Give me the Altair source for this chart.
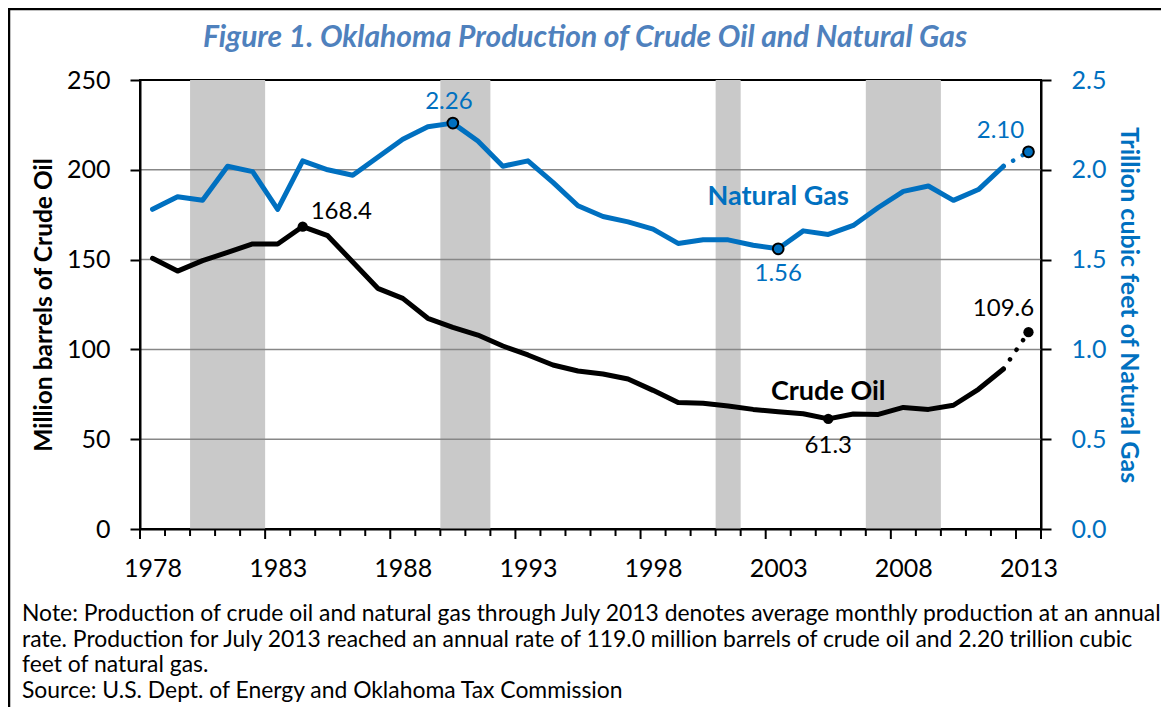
import altair as alt
import pandas as pd

# ---------------- data ----------------
years = list(range(1978, 2014))
oil = [150.7, 143.6, 149.4, 154.0, 158.7, 158.7, 168.4, 163.3, 148.7, 134.0,
       128.4, 117.3, 112.3, 108.0, 101.9, 96.9, 91.3, 88.0, 86.3, 83.5,
       77.2, 70.5, 70.0, 68.5, 66.6, 65.3, 64.2, 61.3, 64.0, 63.8,
       67.7, 66.6, 68.9, 77.8, 89.1, 109.6]
gas = [1.78, 1.85, 1.83, 2.02, 1.99, 1.78, 2.05, 2.00, 1.97, 2.07,
       2.17, 2.24, 2.26, 2.16, 2.02, 2.05, 1.93, 1.80, 1.74, 1.71,
       1.67, 1.59, 1.61, 1.61, 1.58, 1.56, 1.66, 1.64, 1.69, 1.79,
       1.88, 1.91, 1.83, 1.89, 2.02, 2.10]
rec_start = [1980, 1990, 2001, 2007]
rec_end = [1982, 1991, 2001, 2009]
label_years = [1978, 1983, 1988, 1993, 1998, 2003, 2008, 2013]
oil_ticks = [0, 50, 100, 150, 200, 250]
gas_ticks = [0.0, 0.5, 1.0, 1.5, 2.0, 2.5]
oil_marked = [1984, 2005, 2013]
gas_marked = [1990, 2003, 2013]
series = ["Crude Oil", "Natural Gas"]
title_text = "Figure 1. Oklahoma Production of Crude Oil and Natural Gas"
y_left_title = "Million barrels of Crude Oil"
y_right_title = "Trillion cubic feet of Natural Gas"
note_lines = [
    "Note: Production of crude oil and natural gas through July 2013 denotes average monthly production at an annual",
    "rate. Production for July 2013 reached an annual rate of 119.0 million barrels of crude oil and 2.20 trillion cubic",
    "feet of natural gas.",
    "Source: U.S. Dept. of Energy and Oklahoma Tax Commission",
]

FONT = "Lato"
BLUE = "#0070C0"
W, H = 901, 449
last_solid = years[-2]

df = pd.DataFrame({"year": years, "oil": oil, "gas": gas})
rec = pd.DataFrame({"start": rec_start, "end": rec_end})
bounds = pd.DataFrame({"b": [y - 0.5 for y in years] + [years[-1] + 0.5]})
grid = pd.DataFrame({"v": oil_ticks})

xscale = alt.Scale(domain=[years[0] - 0.5, years[-1] + 0.5], nice=False, zero=False)
lscale = alt.Scale(domain=[oil_ticks[0], oil_ticks[-1]], nice=False)
rscale = alt.Scale(domain=[gas_ticks[0], gas_ticks[-1]], nice=False)

x_axis = alt.Axis(values=label_years, format="d", ticks=False, tickSize=0,
                  labelPadding=27, labelFontSize=25, labelFont=FONT,
                  labelColor="black", labelFlush=False, labelOverlap=False,
                  domainColor="black", domainWidth=2, grid=False, title=None,
                  zindex=1)

left_axis = alt.Axis(values=oil_ticks, grid=False, tickSize=10, tickColor="black",
                     tickWidth=2, domainColor="black", domainWidth=2,
                     labelFontSize=25, labelFont=FONT, labelColor="black",
                     labelPadding=20, title=y_left_title, titleFont=FONT,
                     titleFontSize=24.5, titleFontWeight="bold", titleColor="black",
                     titleAngle=-90, titleX=-96, titleY=H / 2, titleAlign="center",
                     titleBaseline="middle", zindex=1)

right_axis = alt.Axis(values=gas_ticks, format=".1f", orient="right", grid=False,
                      tickSize=10, tickColor="black", tickWidth=2,
                      domainColor="black", domainWidth=2, labelFontSize=25,
                      labelFont=FONT, labelColor=BLUE, labelPadding=20,
                      title=y_right_title, titleFont=FONT, titleFontSize=25,
                      titleFontWeight="bold", titleColor=BLUE, titleAngle=90,
                      titleX=87, titleY=H / 2, titleAlign="center",
                      titleBaseline="middle", zindex=1)


def XX(field, axis=None):
    if axis is None:
        return alt.X(f"{field}:Q", scale=xscale)
    return alt.X(f"{field}:Q", scale=xscale, axis=axis)


def YL(field, axis=None):
    if axis is None:
        return alt.Y(f"{field}:Q", scale=lscale)
    return alt.Y(f"{field}:Q", scale=lscale, axis=axis)


def YR(field, axis=None):
    if axis is None:
        return alt.Y(f"{field}:Q", scale=rscale)
    return alt.Y(f"{field}:Q", scale=rscale, axis=axis)


# ---------------- left (crude oil) layers ----------------
bands = alt.Chart(rec).transform_calculate(
    x0="datum.start - 0.5", x1="datum.end + 0.5",
    lo=f"{oil_ticks[0]}", hi=f"{oil_ticks[-1]}"
).mark_rect(color="#C9C9C9").encode(
    x=XX("x0", x_axis),
    x2="x1:Q",
    y=YL("lo"),
    y2="hi:Q",
)

grid_rules = alt.Chart(grid).transform_filter(
    f"datum.v > {oil_ticks[0]} && datum.v < {oil_ticks[-1]}"
).mark_rule(color="#878787", strokeWidth=1.5).encode(y=YL("v"))

x0b = years[0] - 0.5
tick_minor = alt.Chart(bounds).transform_filter(
    f"(datum.b - {x0b}) % 5 != 0 && datum.b != {years[-1] + 0.5}"
).mark_rule(color="black", strokeWidth=2).encode(
    x=XX("b"), y=alt.value(H), y2=alt.value(H + 7)
)
tick_major = alt.Chart(bounds).transform_filter(
    f"(datum.b - {x0b}) % 5 == 0 || datum.b == {years[-1] + 0.5}"
).mark_rule(color="black", strokeWidth=2).encode(
    x=XX("b"), y=alt.value(H), y2=alt.value(H + 10)
)

oil_solid = alt.Chart(df).transform_filter(f"datum.year <= {last_solid}").mark_line(
    color="black", strokeWidth=5, strokeJoin="round", strokeCap="round"
).encode(x=XX("year"), y=YL("oil", left_axis))

oil_dot = alt.Chart(df).transform_filter(f"datum.year >= {last_solid}").mark_line(
    color="black", strokeWidth=4.5, strokeCap="round", strokeDash=[0.1, 11.5]
).encode(x=XX("year"), y=YL("oil"))

oil_pts = alt.Chart(df).transform_filter(
    alt.FieldOneOfPredicate(field="year", oneOf=oil_marked)
).mark_point(filled=True, shape="circle", fill="black", color="black",
             size=105, opacity=1).encode(x=XX("year"), y=YL("oil"))


def oil_label(year, dx, dy, align="center"):
    return alt.Chart(df).transform_filter(f"datum.year == {year}").mark_text(
        font=FONT, fontSize=24, color="black", dx=dx, dy=dy, align=align
    ).encode(x=XX("year"), y=YL("oil"), text=alt.Text("oil:Q", format=".1f"))


oil_name = alt.Chart(df).transform_filter(f"datum.year == 2005").mark_text(
    font=FONT, fontSize=27, fontWeight="bold", color="black", dy=-27,
    text=series[0]
).encode(x=XX("year"), y=YL("oil"))

title_mark = alt.Chart(alt.Data(values=[{}])).mark_text(
    font=FONT, fontSize=30, fontStyle="italic", fontWeight="bold",
    color="#4F81BD", align="center", baseline="middle", text=title_text
).encode(x=alt.value(445), y=alt.value(-42))

notes = alt.Chart(alt.Data(values=[{}])).mark_text(
    font=FONT, fontSize=22.9, color="black", align="left", baseline="alphabetic",
    lineHeight=25.7, text=note_lines
).encode(x=alt.value(-118), y=alt.value(541))

frame_left = alt.Chart(alt.Data(values=[{}])).mark_rule(
    color="black", strokeWidth=2.5
).encode(x=alt.value(-131), y=alt.value(-72), y2=alt.value(700))

frame_top = alt.Chart(alt.Data(values=[{}])).mark_rule(
    color="black", strokeWidth=2.5
).encode(x=alt.value(-132), x2=alt.value(1100), y=alt.value(-71))

left = alt.layer(
    bands, grid_rules, tick_minor, tick_major, oil_solid, oil_dot, oil_pts,
    oil_label(1984, 8, -15, "left"), oil_label(2005, 0, 27),
    oil_label(2013, -25, -23), oil_name, title_mark, notes, frame_left, frame_top,
)

# ---------------- right (natural gas) layers ----------------
gas_solid = alt.Chart(df).transform_filter(f"datum.year <= {last_solid}").mark_line(
    color=BLUE, strokeWidth=5, strokeJoin="round", strokeCap="round"
).encode(x=XX("year"), y=YR("gas", right_axis))

gas_dot = alt.Chart(df).transform_filter(f"datum.year >= {last_solid}").mark_line(
    color=BLUE, strokeWidth=4.5, strokeCap="round", strokeDash=[0.1, 11]
).encode(x=XX("year"), y=YR("gas"))

gas_pts = alt.Chart(df).transform_filter(
    alt.FieldOneOfPredicate(field="year", oneOf=gas_marked)
).mark_point(filled=True, shape="circle", fill=BLUE, stroke="black",
             strokeWidth=2, size=115, opacity=1).encode(x=XX("year"), y=YR("gas"))


def gas_label(year, dx, dy, align="center"):
    return alt.Chart(df).transform_filter(f"datum.year == {year}").mark_text(
        font=FONT, fontSize=24, color=BLUE, dx=dx, dy=dy, align=align
    ).encode(x=XX("year"), y=YR("gas"), text=alt.Text("gas:Q", format=".2f"))


gas_name = alt.Chart(df).transform_filter(f"datum.year == 2003").mark_text(
    font=FONT, fontSize=27, fontWeight="bold", color=BLUE, dy=-52,
    text=series[1]
).encode(x=XX("year"), y=YR("gas"))

right = alt.layer(
    gas_solid, gas_dot, gas_pts,
    gas_label(1990, -4, -21), gas_label(2003, 0, 25), gas_label(2013, -28, -21),
    gas_name,
)

chart = alt.layer(left, right).resolve_scale(y="independent").properties(
    width=W, height=H,
    autosize="none",
    padding={"left": 132, "top": 72, "right": 120, "bottom": 178},
    background="white",
).configure_view(stroke="black", strokeWidth=2).configure_axis(grid=False)

chart.save("out.html", embed_options={"renderer": "svg", "actions": False})
